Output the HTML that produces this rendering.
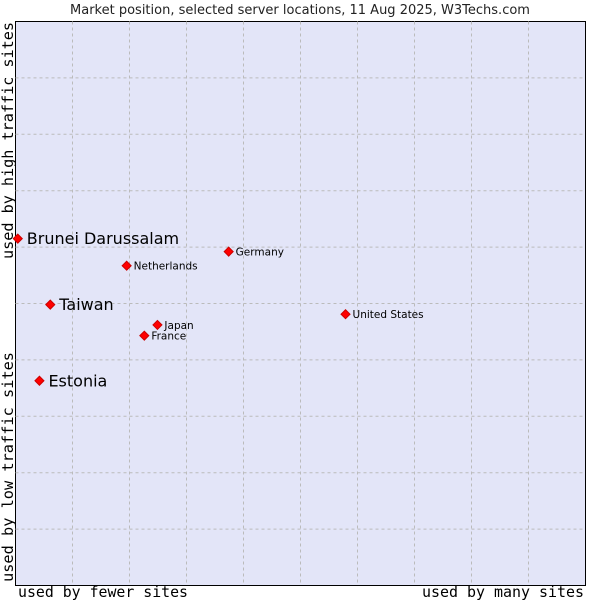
<!DOCTYPE html>
<html><head><meta charset="utf-8"><style>
body{margin:0;background:#fff;}
svg{display:block;font-family:"DejaVu Sans","Liberation Sans",sans-serif;}
</style></head><body>
<svg width="600" height="600">
<text x="300" y="14" text-anchor="middle" font-size="13" fill="#222">Market position, selected server locations, 11 Aug 2025, W3Techs.com</text>
<rect x="15.5" y="21.5" width="570" height="564" fill="#e3e5f8" stroke="#000" stroke-width="1"/>
<g id="grid"></g>
<g id="pts"></g>
<text x="18" y="597" textLength="170" lengthAdjust="spacingAndGlyphs" font-family="DejaVu Sans Mono,Liberation Mono,monospace" font-size="15">used by fewer sites</text>
<text x="422" y="597" textLength="162" lengthAdjust="spacingAndGlyphs" font-family="DejaVu Sans Mono,Liberation Mono,monospace" font-size="15">used by many sites</text>
<text transform="translate(13,582) rotate(-90)" textLength="230" lengthAdjust="spacingAndGlyphs" font-family="DejaVu Sans Mono,Liberation Mono,monospace" font-size="15">used by low traffic sites</text>
<text transform="translate(13,259) rotate(-90)" textLength="237" lengthAdjust="spacingAndGlyphs" font-family="DejaVu Sans Mono,Liberation Mono,monospace" font-size="15">used by high traffic sites</text>
</svg>
<script>
const names=["Brunei Darussalam","Taiwan","Estonia","Netherlands","Germany","Japan","France","United States"];
const xs=[0.4,6.1,4.2,19.5,37.4,24.9,22.6,57.9];
const ys=[61.5,49.8,36.3,56.7,59.2,46.2,44.3,48.1];
const big=[true,true,true,false,false,false,false,false];
const X0=15.5,W=570,Y0=21.5,H=564;
const sx=v=>X0+v/100*W, sy=v=>Y0+H-v/100*H;
const NS="http://www.w3.org/2000/svg";
const g=document.getElementById('grid');
for(let i=1;i<10;i++){
 const l=document.createElementNS(NS,'line');
 l.setAttribute('x1',X0+i*57);l.setAttribute('x2',X0+i*57);l.setAttribute('y1',Y0);l.setAttribute('y2',Y0+H);
 l.setAttribute('stroke','#bbb');l.setAttribute('stroke-dasharray','3,3');
 
 
 g.appendChild(l);
 const m=document.createElementNS(NS,'line');
 const yy=Y0+i*H/10;
 m.setAttribute('x1',X0);m.setAttribute('x2',X0+W);m.setAttribute('y1',yy);m.setAttribute('y2',yy);
 m.setAttribute('stroke','#bbb');m.setAttribute('stroke-dasharray','3,3');
 
 
 g.appendChild(m);
}
const p=document.getElementById('pts');
names.forEach((n,i)=>{
 const x=sx(xs[i]),y=sy(ys[i]);
 const d=document.createElementNS(NS,'path');
 d.setAttribute('d',`M${x-4.5},${y}L${x},${y-4.5}L${x+4.5},${y}L${x},${y+4.5}Z`);
 d.setAttribute('fill','#f00');d.setAttribute('stroke','#c00');
 
 
 p.appendChild(d);
 const t=document.createElementNS(NS,'text');
 t.setAttribute('x',x+(big[i]?9:7));t.setAttribute('y',y+(big[i]?5.5:4));
 t.setAttribute('font-size',big[i]?16:10.5);
 t.textContent=n;
 
 
 p.appendChild(t);
});
</script>
</body></html>
